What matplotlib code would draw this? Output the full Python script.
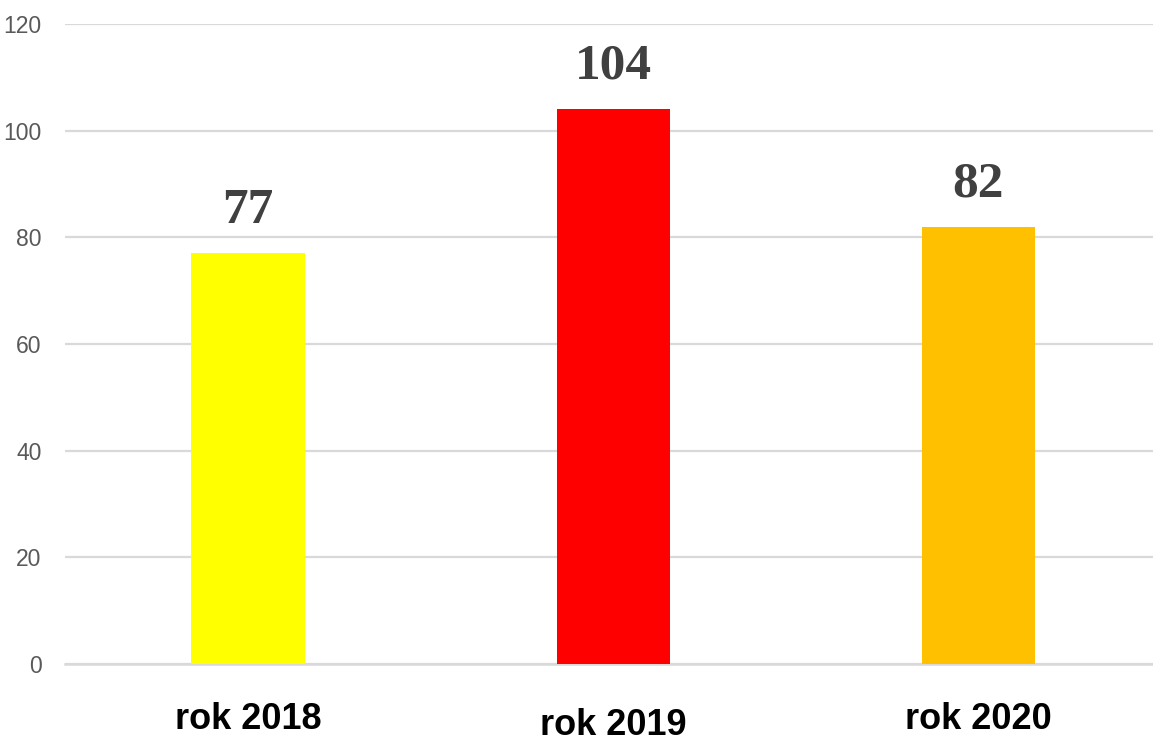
import matplotlib.pyplot as plt
from matplotlib import font_manager
import matplotlib.transforms as mtransforms

# dane
lata = ['rok 2018', 'rok 2019', 'rok 2020']
wartosci = [77, 104, 82]
kolory = ['#FFFF00', '#FF0000', '#FFC000']
yticks = [0, 20, 40, 60, 80, 100, 120]

installed = {f.name for f in font_manager.fontManager.ttflist}
narrow = 'Liberation Sans Narrow' if 'Liberation Sans Narrow' in installed else 'Liberation Sans'

fig = plt.figure(figsize=(11.53, 7.43), dpi=100)
ax = fig.add_axes([65 / 1153, 79 / 743, 1088 / 1153, 640 / 743])

x = list(range(len(lata)))
ax.bar(x, wartosci, width=0.31, color=kolory, zorder=3)

ax.set_ylim(0, 120)
ax.set_xlim(-0.5014, 2.479)
ax.set_yticks(yticks)
ax.set_yticklabels([str(v) for v in yticks], fontsize=16.5, color='#595959',
                   fontfamily=[narrow, 'DejaVu Sans'])
ax.tick_params(axis='y', length=0, pad=17)
ax.set_xticks([])
ax.grid(axis='y', color='#d9d9d9', linewidth=1.6, zorder=0)
for s in ['top', 'right', 'left']:
    ax.spines[s].set_visible(False)
ax.spines['bottom'].set_color('#d9d9d9')
ax.spines['bottom'].set_linewidth(1.8)

# podpisy wartosci
for xi, v in zip(x, wartosci):
    ax.annotate(str(v), (xi, v), xytext=(0, 14), textcoords='offset points',
                ha='center', va='bottom', fontsize=37, fontweight='bold',
                color='#404040', fontfamily=['Liberation Serif', 'DejaVu Serif'])

# etykiety osi x (rok 2019 nieco nizej)
trans = mtransforms.blended_transform_factory(ax.transData, ax.transAxes)
przes = [0, -4, 0]
for xi, lab, d in zip(x, lata, przes):
    ax.annotate(lab, (xi, 0), xycoords=trans, xytext=(0, -40 + d),
                textcoords='offset points', ha='center', va='center',
                fontsize=26, fontweight='bold', color='black',
                fontfamily=[narrow, 'DejaVu Sans'])

plt.savefig('out.png', dpi=100)
